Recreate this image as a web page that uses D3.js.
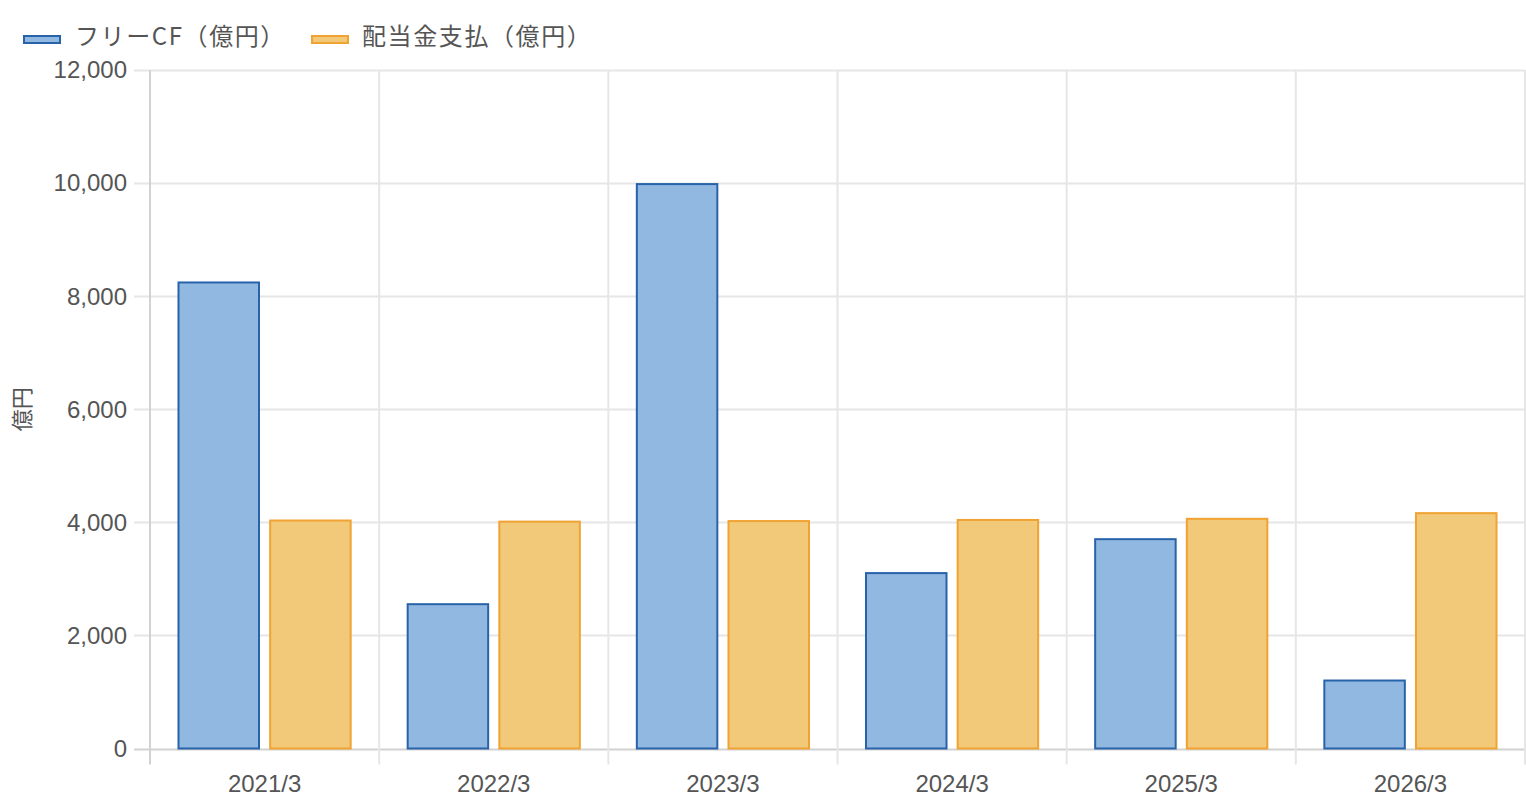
<!DOCTYPE html>
<html><head><meta charset="utf-8">
<script src="https://cdn.jsdelivr.net/npm/d3@7"></script>
<style>
html,body{margin:0;padding:0;background:#fff;}
svg{display:block;font-family:"Liberation Sans","Noto Sans CJK JP",sans-serif;}
</style></head>
<body>
<svg id="chart" width="1526" height="806"></svg>
<script>
const categories = ["2021/3","2022/3","2023/3","2024/3","2025/3","2026/3"];
const seriesNames = ["フリーCF（億円）","配当金支払（億円）"];
const freeCF = [8260, 2570, 10000, 3120, 3720, 1220];
const dividends = [4050, 4030, 4040, 4060, 4080, 4180];
const yTicks = [0, 2000, 4000, 6000, 8000, 10000, 12000];
const yTitle = "億円";

(function(){
const fills = ["#90b8e1", "#f1c979"];
const strokes = ["#2863aa", "#f0a232"];
const seriesValues = [freeCF, dividends];

const svg = d3.select("#chart");
const pLeft = 150, pRight = 1525, pTop = 70, pBottom = 748.5;
const textColor = "#555";
const gridColor = "#e6e6e6";
const axisColor = "#d2d2d2";

const x0 = d3.scaleBand().domain(categories).range([pLeft, pRight]).padding(0);
const bw = x0.bandwidth();
const x1 = d3.scaleBand().domain(seriesNames).range([0.1*bw, 0.9*bw]).paddingInner(0.1).paddingOuter(0.05);
const y = d3.scaleLinear().domain([0, 12000]).range([pBottom, pTop]);

const gy = svg.append("g");
yTicks.forEach(t => {
  gy.append("line").attr("x1", pLeft - 16).attr("x2", pRight)
    .attr("y1", Math.round(y(t)) + 0.5).attr("y2", Math.round(y(t)) + 0.5)
    .attr("stroke", t === 0 ? axisColor : gridColor).attr("stroke-width", 2);
  gy.append("text").attr("x", pLeft - 23).attr("y", y(t)).attr("dy", "0.35em")
    .attr("text-anchor", "end").attr("fill", textColor).attr("font-size", 24)
    .text(d3.format(",")(t));
});
const bounds = categories.map(c => x0(c)).concat([pRight]);
bounds.forEach((bx, i) => {
  svg.append("line").attr("x1", bx).attr("x2", bx).attr("y1", pTop).attr("y2", pBottom + 16)
    .attr("stroke", i === 0 ? axisColor : gridColor).attr("stroke-width", 2);
});
categories.forEach(c => {
  svg.append("text").attr("x", x0(c) + bw/2).attr("y", 784).attr("dy", "0.35em")
    .attr("text-anchor", "middle").attr("fill", textColor).attr("font-size", 24).text(c);
});
seriesNames.forEach((s, si) => {
  svg.append("g").selectAll("rect").data(categories).join("rect")
    .attr("x", c => x0(c) + x1(s) + 1)
    .attr("y", (c, i) => y(seriesValues[si][i]) + 1)
    .attr("width", x1.bandwidth() - 2)
    .attr("height", (c, i) => Math.max(0, y(0) - y(seriesValues[si][i]) - 1))
    .attr("fill", fills[si]).attr("stroke", strokes[si]).attr("stroke-width", 2);
});
svg.append("text").attr("transform", `translate(30,${(pTop+pBottom)/2}) rotate(-90)`)
  .attr("text-anchor", "middle").attr("fill", textColor).attr("font-size", 22)
  .attr("font-family", "'Noto Sans CJK JP',sans-serif").text(yTitle);
const legendItems = [{x: 24, tx: 75}, {x: 312, tx: 362}];
seriesNames.forEach((s, si) => {
  const L = legendItems[si];
  svg.append("rect").attr("x", L.x).attr("y", 36).attr("width", 36).attr("height", 7)
    .attr("fill", fills[si]).attr("stroke", strokes[si]).attr("stroke-width", 2);
  svg.append("text").attr("x", L.tx).attr("y", 37).attr("dy", "0.35em")
    .attr("fill", textColor).attr("font-size", 24).attr("letter-spacing", 1.6)
    .attr("font-family", "'Noto Sans CJK JP',sans-serif").text(s);
});
})();
</script>
</body></html>
